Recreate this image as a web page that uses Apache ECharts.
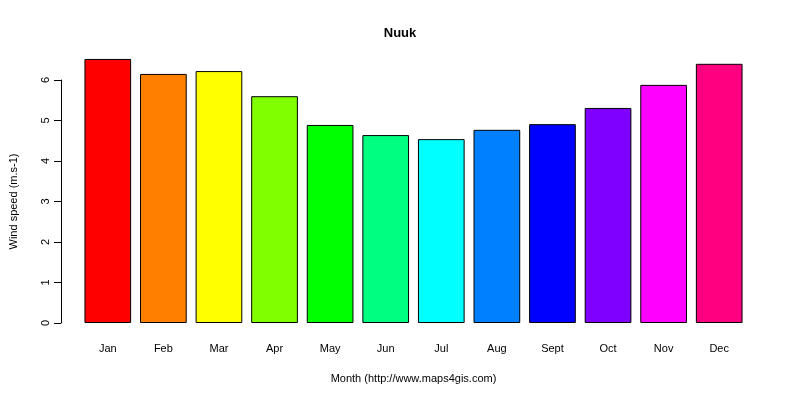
<!DOCTYPE html><html><head><meta charset="utf-8"><script src="https://cdn.jsdelivr.net/npm/echarts@6/dist/echarts.min.js"></script></head><body style="margin:0"><div id="c" style="width:800px;height:400px"></div><script>
const months=["Jan","Feb","Mar","Apr","May","Jun","Jul","Aug","Sept","Oct","Nov","Dec"];
const values=[6.52,6.15,6.22,5.60,4.89,4.64,4.54,4.77,4.91,5.31,5.88,6.40];
const colors=["#FF0000","#FF8000","#FFFF00","#80FF00","#00FF00","#00FF80","#00FFFF","#0080FF","#0000FF","#8000FF","#FF00FF","#FF0080"];
const yTicks=[0,1,2,3,4,5,6];
const f="Liberation Sans, Arial, sans-serif";
const c=echarts.init(document.getElementById('c'));
c.setOption({animation:false,backgroundColor:'#fff',
title:{text:'Nuuk',left:'center',top:22,textStyle:{fontFamily:f,fontSize:13,fontWeight:'bold',color:'#000'}},
grid:[{left:80,right:53,top:323-6.52*40.5,bottom:77},{left:80,right:53,top:80,bottom:77}],
xAxis:[{type:'category',data:months,gridIndex:0,axisLine:{show:false},axisTick:{show:false},axisLabel:{margin:20,fontFamily:f,fontSize:11,color:'#000'},
name:'Month (http://www.maps4gis.com)',nameLocation:'middle',nameGap:50,nameTextStyle:{fontFamily:f,fontSize:11,color:'#000'}},
{type:'category',gridIndex:1,show:false,data:months}],
yAxis:[{type:'value',gridIndex:0,min:0,max:6.52,show:false},
{type:'value',gridIndex:1,min:0,max:6,interval:1,offset:20,axisLine:{show:true,lineStyle:{color:'#000'}},axisTick:{show:true,length:7,lineStyle:{color:'#000'}},splitLine:{show:false},
axisLabel:{rotate:90,margin:10,fontFamily:f,fontSize:11,color:'#000',formatter:v=>yTicks.includes(v)?String(v):''},
name:'Wind speed (m.s-1)',nameLocation:'middle',nameGap:42,nameTextStyle:{fontFamily:f,fontSize:11,color:'#000'}}],
series:[{type:'bar',xAxisIndex:0,yAxisIndex:0,barCategoryGap:'16%',data:values.map((v,i)=>({value:v,itemStyle:{color:colors[i],borderColor:'#000',borderWidth:1}}))}]
});
</script></body></html>
